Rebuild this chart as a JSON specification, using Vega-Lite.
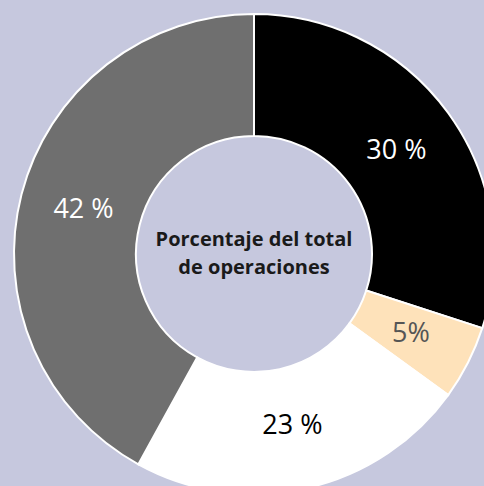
{
  "$schema": "https://vega.github.io/schema/vega-lite/v6.json",
  "width": 508,
  "height": 508,
  "autosize": {"type": "none"},
  "padding": 0,
  "background": "#c6c8de",
  "config": {"view": {"stroke": null}},
  "data": {
    "values": [
      {"segmento": "A", "orden": 1, "porcentaje": 30, "etiqueta": "30 %"},
      {"segmento": "B", "orden": 2, "porcentaje": 5, "etiqueta": "5%"},
      {"segmento": "C", "orden": 3, "porcentaje": 23, "etiqueta": "23 %"},
      {"segmento": "D", "orden": 4, "porcentaje": 42, "etiqueta": "42 %"}
    ]
  },
  "encoding": {
    "theta": {"field": "porcentaje", "type": "quantitative", "stack": true},
    "order": {"field": "orden", "type": "quantitative"}
  },
  "layer": [
    {
      "mark": {"type": "arc", "outerRadius": 240, "innerRadius": 118, "stroke": "#ffffff", "strokeWidth": 2},
      "encoding": {
        "color": {
          "field": "segmento",
          "type": "nominal",
          "scale": {"domain": ["A", "B", "C", "D"], "range": ["#000000", "#fee2ba", "#ffffff", "#6f6f6f"]},
          "legend": null
        }
      }
    },
    {
      "mark": {"type": "text", "radius": 176, "fontSize": 27, "font": "Open Sans", "align": "center", "baseline": "middle"},
      "encoding": {
        "text": {"field": "etiqueta", "type": "nominal"},
        "color": {
          "field": "segmento",
          "type": "nominal",
          "scale": {"domain": ["A", "B", "C", "D"], "range": ["#ffffff", "#555555", "#000000", "#ffffff"]},
          "legend": null
        }
      }
    },
    {
      "data": {"values": [{"titulo": "Porcentaje del total\nde operaciones"}]},
      "mark": {"type": "text", "fontSize": 20, "fontWeight": "bold", "font": "Open Sans", "lineBreak": "\n", "lineHeight": 28, "align": "center", "baseline": "alphabetic", "dy": -8, "color": "#1a1a1a"},
      "encoding": {
        "text": {"field": "titulo", "type": "nominal"},
        "theta": null,
        "order": null
      }
    }
  ],
  "resolve": {"scale": {"color": "independent"}}
}
